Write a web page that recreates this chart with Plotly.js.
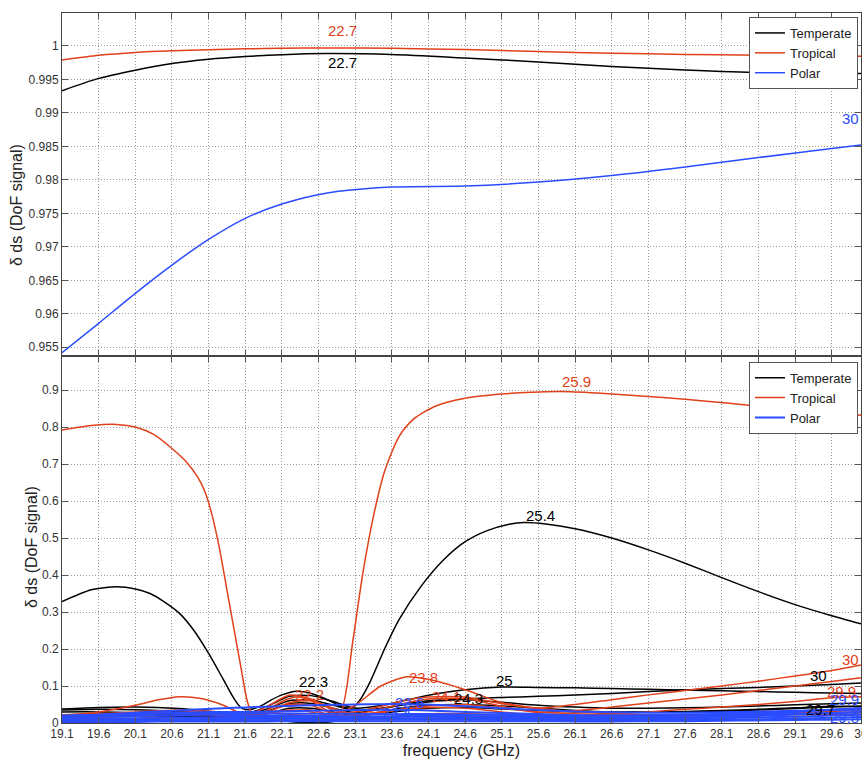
<!DOCTYPE html>
<html>
<head>
<meta charset="utf-8">
<script src="https://cdn.plot.ly/plotly-3.0.1.min.js"></script>
<style>
  html, body { margin: 0; padding: 0; background: #fff; }
  #chart { width: 862px; height: 762px; }
</style>
</head>
<body>
<div id="chart"></div>
<script>
// ---- Axis ticks ----
const xTicks = [19.1, 19.6, 20.1, 20.6, 21.1, 21.6, 22.1, 22.6, 23.1, 23.6, 24.1, 24.6,
                25.1, 25.6, 26.1, 26.6, 27.1, 27.6, 28.1, 28.6, 29.1, 29.6, 30];
const xTickLabels = ['19.1', '19.6', '20.1', '20.6', '21.1', '21.6', '22.1', '22.6', '23.1', '23.6', '24.1', '24.6',
                     '25.1', '25.6', '26.1', '26.6', '27.1', '27.6', '28.1', '28.6', '29.1', '29.6', '30'];
const yTopTicks = [0.955, 0.96, 0.965, 0.97, 0.975, 0.98, 0.985, 0.99, 0.995, 1];
const yTopLabels = ['0.955', '0.96', '0.965', '0.97', '0.975', '0.98', '0.985', '0.99', '0.995', '1'];
const yBotTicks = [0, 0.1, 0.2, 0.3, 0.4, 0.5, 0.6, 0.7, 0.8, 0.9];
const yBotLabels = ['0', '0.1', '0.2', '0.3', '0.4', '0.5', '0.6', '0.7', '0.8', '0.9'];
const yTitle = 'δ ds (DoF signal)';
const xTitle = 'frequency (GHz)';

// ---- Climates ----
const climates = ['Temperate', 'Tropical', 'Polar'];

// ---- Upper panel: DoF for signal, one curve per climate ----
const freqTop = [19.1, 19.6, 20.1, 20.6, 21.1, 21.6, 22.1, 22.7, 23.6, 24.6, 25.6, 26.6, 27.6, 28.6, 29.6, 30];
const topTemperate = [0.9933, 0.99514, 0.99637, 0.99737, 0.99800, 0.99840, 0.99868, 0.99884, 0.99870, 0.99818,
                      0.99760, 0.99690, 0.99640, 0.99600, 0.99590, 0.99588];
const topTropical = [0.99787, 0.99858, 0.99901, 0.99925, 0.99940, 0.99955, 0.99962, 0.99968, 0.99962, 0.99945,
                     0.99915, 0.99890, 0.99872, 0.99860, 0.99850, 0.99845];
const topPolar = [0.9542, 0.95858, 0.96306, 0.96728, 0.97111, 0.97425, 0.97638, 0.97800, 0.97892, 0.97907,
                  0.97966, 0.98063, 0.98190, 0.98332, 0.98466, 0.98518];

// ---- Lower panel: strongest curve of each family ----
const tempMainFreq = [19.1, 19.5, 19.85, 20.1, 20.3, 20.5, 20.7, 20.9, 21.1, 21.3, 21.45, 21.55, 21.65, 21.8,
                      21.95, 22.1, 22.3, 22.5, 22.7, 22.9, 23.05, 23.15, 23.3, 23.5, 23.7, 24.0, 24.3, 24.6,
                      24.9, 25.2, 25.4, 25.7, 26.1, 26.6, 27.1, 27.6, 28.1, 28.6, 29.1, 29.6, 30];
const tempMainVal = [0.328, 0.360, 0.368, 0.362, 0.350, 0.327, 0.297, 0.250, 0.188, 0.118, 0.065, 0.040, 0.036, 0.045,
                     0.062, 0.076, 0.086, 0.080, 0.065, 0.046, 0.040, 0.058, 0.110, 0.200, 0.280, 0.370, 0.440, 0.490,
                     0.520, 0.537, 0.542, 0.538, 0.525, 0.500, 0.468, 0.432, 0.393, 0.355, 0.320, 0.290, 0.268];

const tropMainFreq = [19.1, 19.5, 19.85, 20.1, 20.35, 20.6, 20.8, 20.95, 21.05, 21.15, 21.25, 21.35, 21.45, 21.55,
                      21.62, 21.68, 21.74, 21.9, 22.1, 22.3, 22.5, 22.75, 22.9, 23.07, 23.2, 23.35, 23.5, 23.7,
                      23.9, 24.2, 24.6, 25.1, 25.5, 25.9, 26.4, 27.0, 27.6, 28.2, 28.6, 29.2, 29.6, 30];
const tropMainVal = [0.792, 0.804, 0.807, 0.800, 0.780, 0.742, 0.705, 0.665, 0.625, 0.560, 0.470, 0.360, 0.250, 0.140,
                     0.065, 0.030, 0.020, 0.035, 0.058, 0.070, 0.060, 0.030, 0.030, 0.225, 0.400, 0.560, 0.680, 0.775,
                     0.822, 0.857, 0.878, 0.889, 0.894, 0.896, 0.892, 0.884, 0.875, 0.864, 0.856, 0.847, 0.840, 0.832];

// ---- Lower panel: weaker curves on a shared frequency grid ----
const freqLow = [19.1, 19.6, 20.1, 20.4, 20.7, 21.0, 21.3, 21.6, 21.9, 22.2, 22.5, 22.8, 23.1, 23.45,
                 23.8, 24.1, 24.6, 25.1, 25.6, 26.1, 26.6, 27.1, 27.6, 28.1, 28.6, 29.1, 29.6, 30];

const tempLow1 = [0.038, 0.042, 0.043, 0.042, 0.039, 0.034, 0.028, 0.024, 0.045, 0.072, 0.074, 0.058, 0.040, 0.047,
                  0.062, 0.075, 0.090, 0.097, 0.096, 0.095, 0.093, 0.091, 0.089, 0.087, 0.085, 0.083, 0.081, 0.080];
const tempLow2 = [0.035, 0.037, 0.036, 0.034, 0.031, 0.027, 0.023, 0.020, 0.038, 0.060, 0.062, 0.048, 0.034, 0.040,
                  0.050, 0.057, 0.065, 0.069, 0.072, 0.076, 0.080, 0.085, 0.089, 0.093, 0.096, 0.100, 0.104, 0.108];
const tempLow3 = [0.030, 0.030, 0.028, 0.027, 0.025, 0.021, 0.016, 0.013, 0.032, 0.052, 0.053, 0.040, 0.028, 0.038,
                  0.052, 0.060, 0.063, 0.056, 0.048, 0.043, 0.040, 0.040, 0.041, 0.043, 0.046, 0.049, 0.052, 0.054];
const tempLow4 = [0.022, 0.024, 0.024, 0.023, 0.021, 0.019, 0.014, 0.010, 0.025, 0.040, 0.040, 0.030, 0.020, 0.026,
                  0.034, 0.040, 0.042, 0.038, 0.034, 0.030, 0.029, 0.030, 0.031, 0.034, 0.037, 0.041, 0.045, 0.044];
const tempLow5 = [0.015, 0.018, 0.020, 0.019, 0.018, 0.016, 0.016, 0.018, 0.012, 0.004, 0.001, 0.004, 0.018, 0.030,
                  0.042, 0.048, 0.050, 0.046, 0.040, 0.034, 0.030, 0.029, 0.030, 0.032, 0.035, 0.039, 0.043, 0.046];

const tropLow1 = [0.020, 0.022, 0.025, 0.027, 0.028, 0.030, 0.029, 0.024, 0.028, 0.035, 0.030, 0.020, 0.048, 0.100,
                  0.125, 0.118, 0.090, 0.055, 0.040, 0.030, 0.025, 0.022, 0.020, 0.020, 0.021, 0.022, 0.023, 0.024];
const tropLow2 = [0.022, 0.025, 0.030, 0.033, 0.035, 0.033, 0.028, 0.018, 0.030, 0.050, 0.048, 0.025, 0.030, 0.045,
                  0.062, 0.070, 0.070, 0.052, 0.040, 0.050, 0.063, 0.076, 0.088, 0.100, 0.113, 0.127, 0.142, 0.157];
const tropLow3 = [0.015, 0.020, 0.025, 0.027, 0.029, 0.030, 0.027, 0.020, 0.045, 0.075, 0.065, 0.035, 0.025, 0.038,
                  0.055, 0.065, 0.066, 0.045, 0.028, 0.033, 0.043, 0.054, 0.065, 0.076, 0.088, 0.100, 0.112, 0.122];
const tropLow4 = [0.012, 0.015, 0.018, 0.020, 0.021, 0.022, 0.020, 0.015, 0.025, 0.033, 0.035, 0.020, 0.022, 0.030,
                  0.038, 0.042, 0.040, 0.030, 0.020, 0.018, 0.024, 0.030, 0.037, 0.043, 0.050, 0.058, 0.068, 0.071];
const tropLow5 = [0.020, 0.030, 0.048, 0.062, 0.071, 0.066, 0.048, 0.022, 0.030, 0.055, 0.060, 0.040, 0.020, 0.028,
                  0.040, 0.046, 0.050, 0.040, 0.030, 0.025, 0.021, 0.020, 0.020, 0.021, 0.023, 0.025, 0.027, 0.030];
const tropLow6 = [0.008, 0.010, 0.012, 0.013, 0.014, 0.015, 0.013, 0.010, 0.018, 0.022, 0.020, 0.015, 0.012, 0.016,
                  0.020, 0.025, 0.025, 0.022, 0.018, 0.015, 0.015, 0.016, 0.018, 0.020, 0.023, 0.027, 0.031, 0.035];

const polarLow1 = [0.018, 0.022, 0.028, 0.031, 0.034, 0.037, 0.040, 0.042, 0.044, 0.046, 0.048, 0.049, 0.050, 0.051,
                   0.051, 0.050, 0.045, 0.040, 0.035, 0.031, 0.029, 0.028, 0.028, 0.029, 0.031, 0.033, 0.035, 0.036];
const polarLow2 = [0.012, 0.018, 0.024, 0.026, 0.028, 0.029, 0.030, 0.030, 0.031, 0.032, 0.033, 0.034, 0.035, 0.036,
                   0.035, 0.034, 0.030, 0.027, 0.024, 0.021, 0.020, 0.020, 0.021, 0.022, 0.023, 0.025, 0.027, 0.030];
const polarLow3 = [0.020, 0.022, 0.024, 0.025, 0.026, 0.027, 0.027, 0.027, 0.026, 0.026, 0.025, 0.025, 0.025, 0.024,
                   0.024, 0.024, 0.023, 0.022, 0.021, 0.020, 0.020, 0.021, 0.023, 0.025, 0.028, 0.032, 0.036, 0.040];
const polarLow4 = [0.015, 0.017, 0.019, 0.020, 0.021, 0.022, 0.022, 0.021, 0.020, 0.020, 0.019, 0.019, 0.018, 0.018,
                   0.019, 0.020, 0.019, 0.018, 0.017, 0.016, 0.016, 0.018, 0.020, 0.022, 0.025, 0.030, 0.036, 0.040];
const polarLow5 = [0.010, 0.012, 0.013, 0.014, 0.015, 0.015, 0.016, 0.016, 0.016, 0.016, 0.016, 0.016, 0.016, 0.016,
                   0.017, 0.017, 0.016, 0.015, 0.014, 0.013, 0.013, 0.014, 0.015, 0.017, 0.019, 0.023, 0.027, 0.029];
const polarLow6 = [0.006, 0.008, 0.009, 0.010, 0.010, 0.011, 0.011, 0.012, 0.012, 0.012, 0.012, 0.012, 0.012, 0.012,
                   0.013, 0.013, 0.013, 0.012, 0.011, 0.010, 0.010, 0.011, 0.012, 0.013, 0.015, 0.017, 0.020, 0.022];
const polarLow7 = [0.004, 0.005, 0.006, 0.007, 0.007, 0.007, 0.008, 0.008, 0.008, 0.008, 0.008, 0.008, 0.008, 0.009,
                   0.009, 0.009, 0.009, 0.008, 0.008, 0.007, 0.007, 0.008, 0.008, 0.009, 0.010, 0.012, 0.014, 0.016];
const polarLow8 = [0.002, 0.003, 0.003, 0.004, 0.004, 0.004, 0.004, 0.004, 0.004, 0.005, 0.005, 0.005, 0.005, 0.005,
                   0.005, 0.005, 0.005, 0.005, 0.005, 0.004, 0.004, 0.005, 0.005, 0.006, 0.007, 0.008, 0.009, 0.010];

// ---- Peak labels (channel frequency in GHz) ----
const topLabelText = ['22.7', '22.7', '30'];
const botLabelText = ['25.9', '25.4', '22.3', '22.2', '23.8', '25', '24.1', '24.3', '23.6', '23.4',
                      '30', '30', '29.9', '29.9', '29.7', '29.8'];

// ---- Styling ----
const colorOf = { Temperate: '#000000', Tropical: '#e0401a', Polar: '#2a4cff' };
const FONT = 'Liberation Sans, Arial, Helvetica, sans-serif';

function curve(x, y, climate, xa, ya, legendId, show, width) {
  return {
    type: 'scatter', mode: 'lines', x: x, y: y,
    xaxis: xa, yaxis: ya,
    name: climate, legend: legendId, showlegend: show,
    line: { color: colorOf[climate], width: width || 1.5, shape: 'spline', smoothing: 0.7 },
    hoverinfo: 'skip'
  };
}

const traces = [];
// upper panel
traces.push(curve(freqTop, topTemperate, 'Temperate', 'x', 'y', 'legend', true));
traces.push(curve(freqTop, topTropical, 'Tropical', 'x', 'y', 'legend', true));
traces.push(curve(freqTop, topPolar, 'Polar', 'x', 'y', 'legend', true));

// lower panel: Temperate family
traces.push(curve(tempMainFreq, tempMainVal, 'Temperate', 'x2', 'y2', 'legend2', true));
[tempLow1, tempLow2, tempLow3, tempLow4, tempLow5].forEach(v =>
  traces.push(curve(freqLow, v, 'Temperate', 'x2', 'y2', 'legend2', false)));
// Tropical family
traces.push(curve(tropMainFreq, tropMainVal, 'Tropical', 'x2', 'y2', 'legend2', true));
[tropLow1, tropLow2, tropLow3, tropLow4, tropLow5, tropLow6].forEach(v =>
  traces.push(curve(freqLow, v, 'Tropical', 'x2', 'y2', 'legend2', false)));
// Polar family
[polarLow1, polarLow2, polarLow3, polarLow4, polarLow5, polarLow6, polarLow7, polarLow8].forEach((v, i) =>
  traces.push(curve(freqLow, v, 'Polar', 'x2', 'y2', 'legend2', i === 0, 2)));

// ---- Label annotations ----
function label(text, x, y, climate, xr, yr, anchor) {
  return {
    text: text, x: x, y: y, xref: xr, yref: yr,
    xanchor: anchor || 'left', yanchor: 'middle', showarrow: false,
    font: { family: FONT, size: 15, color: colorOf[climate] }
  };
}
// vertical axis titles, one per panel, each beside its own tick labels
function sideTitle(text, x, y) {
  return {
    text: text, x: x, y: y, xref: 'paper', yref: 'paper',
    xanchor: 'center', yanchor: 'middle', textangle: -90, showarrow: false,
    font: { family: FONT, size: 16, color: '#222' }
  };
}
const annotations = [
  sideTitle(yTitle, -0.0563, 0.7296),
  sideTitle(yTitle, -0.0375, 0.2479),

  label(topLabelText[0], 22.7, 1.00234, 'Tropical', 'x', 'y'),
  label(topLabelText[1], 22.7, 0.99757, 'Temperate', 'x', 'y'),
  label(topLabelText[2], 30, 0.98921, 'Polar', 'x', 'y', 'right'),

  label(botLabelText[0], 25.9, 0.9225, 'Tropical', 'x2', 'y2'),
  label(botLabelText[1], 25.4, 0.560, 'Temperate', 'x2', 'y2'),
  label(botLabelText[2], 22.3, 0.112, 'Temperate', 'x2', 'y2'),
  label(botLabelText[3], 22.25, 0.078, 'Tropical', 'x2', 'y2'),
  label(botLabelText[4], 23.8, 0.122, 'Tropical', 'x2', 'y2'),
  label(botLabelText[5], 25.0, 0.115, 'Temperate', 'x2', 'y2'),
  label(botLabelText[6], 24.12, 0.071, 'Tropical', 'x2', 'y2'),
  label(botLabelText[7], 24.42, 0.066, 'Temperate', 'x2', 'y2'),
  label(botLabelText[8], 23.62, 0.055, 'Polar', 'x2', 'y2'),
  label(botLabelText[9], 23.44, 0.028, 'Polar', 'x2', 'y2'),
  label(botLabelText[10], 30, 0.171, 'Tropical', 'x2', 'y2', 'right'),
  label(botLabelText[11], 29.28, 0.128, 'Temperate', 'x2', 'y2'),
  label(botLabelText[12], 29.51, 0.085, 'Tropical', 'x2', 'y2'),
  label(botLabelText[13], 30, 0.063, 'Polar', 'x2', 'y2', 'right'),
  label(botLabelText[14], 29.22, 0.036, 'Temperate', 'x2', 'y2'),
  label(botLabelText[15], 30, 0.015, 'Polar', 'x2', 'y2', 'right')
];

// ---- Axes ----
const axisCommon = {
  showline: true, linecolor: '#444', linewidth: 1, mirror: 'ticks',
  ticks: 'inside', ticklen: 6, tickcolor: '#555', tickwidth: 1,
  showgrid: true, gridcolor: '#9a9a9a', gridwidth: 1, griddash: '1px,2px',
  zeroline: false, tickfont: { family: FONT, size: 12, color: '#333' },
  ticklabeloverflow: 'allow'
};
const xRange = [19.1, 30];

const layout = {
  width: 862, height: 762,
  margin: { l: 62, r: 1, t: 13, b: 39 },
  paper_bgcolor: '#ffffff', plot_bgcolor: '#ffffff',
  font: { family: FONT, color: '#222' },
  xaxis: Object.assign({}, axisCommon, {
    domain: [0, 1], anchor: 'y', range: xRange,
    tickmode: 'array', tickvals: xTicks, ticktext: xTickLabels, showticklabels: false
  }),
  yaxis: Object.assign({}, axisCommon, {
    domain: [0.5169, 1], anchor: 'x', range: [0.9537, 1.0049],
    tickmode: 'array', tickvals: yTopTicks, ticktext: yTopLabels
  }),
  xaxis2: Object.assign({}, axisCommon, {
    domain: [0, 1], anchor: 'y2', range: xRange,
    tickmode: 'array', tickvals: xTicks, ticktext: xTickLabels,
    title: { text: xTitle, font: { family: FONT, size: 16, color: '#222' }, standoff: 4 }
  }),
  yaxis2: Object.assign({}, axisCommon, {
    domain: [0, 0.5169], anchor: 'x2', range: [0, 0.992],
    tickmode: 'array', tickvals: yBotTicks, ticktext: yBotLabels
  }),
  legend: {
    x: 0.9962, xanchor: 'right', y: 0.9944, yanchor: 'top',
    bgcolor: '#ffffff', bordercolor: '#555', borderwidth: 1,
    font: { family: FONT, size: 13, color: '#222' }, itemwidth: 30, tracegroupgap: 0
  },
  legend2: {
    x: 0.9962, xanchor: 'right', y: 0.5089, yanchor: 'top',
    bgcolor: '#ffffff', bordercolor: '#555', borderwidth: 1,
    font: { family: FONT, size: 13, color: '#222' }, itemwidth: 30, tracegroupgap: 0
  },
  annotations: annotations,
  showlegend: true
};

Plotly.newPlot('chart', traces, layout, { staticPlot: true, displayModeBar: false });
</script>
</body>
</html>
